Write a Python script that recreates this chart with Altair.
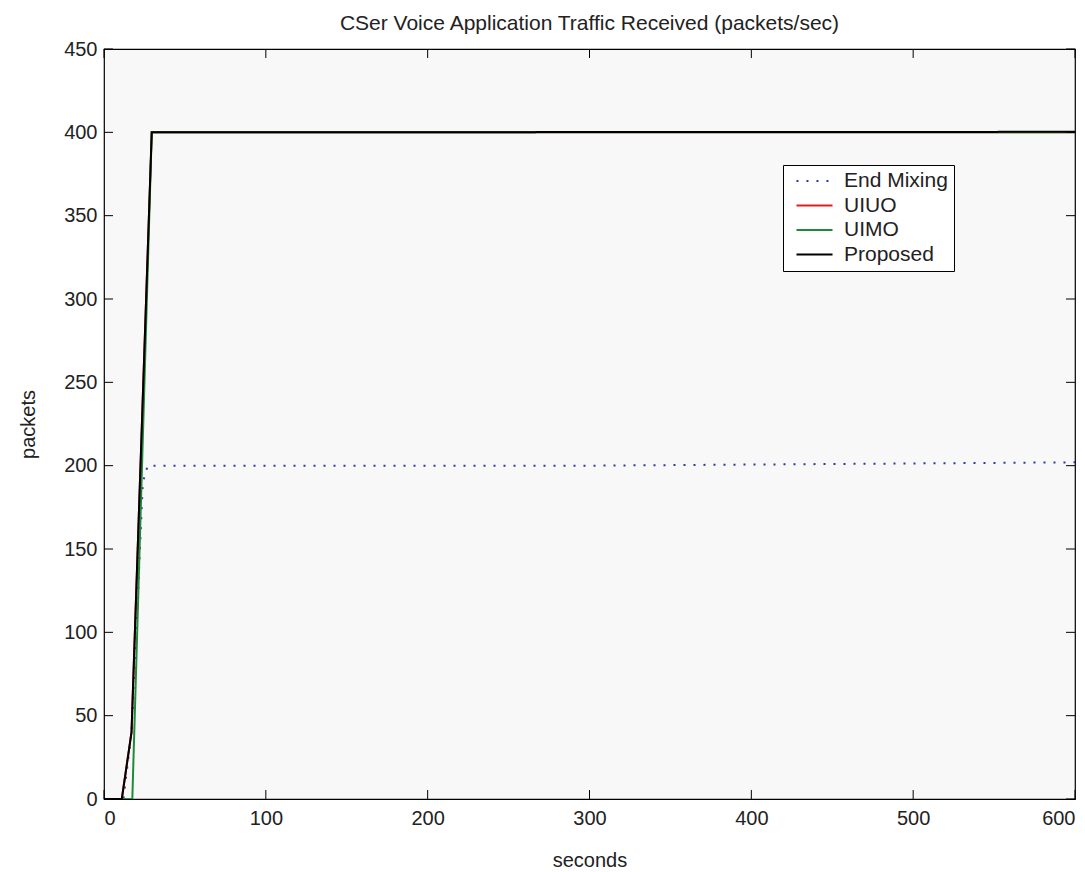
import altair as alt
import pandas as pd

series_names = ["End Mixing", "UIUO", "UIMO", "Proposed"]
series_colors = ["#2a3aa0", "#e02020", "#1f8a3a", "#000000"]

end_mixing_t = [0, 12, 17, 20, 24, 27, 300, 600]
end_mixing_v = [0, 0, 40, 100, 190, 200, 200, 202]
uiuo_t = [0, 11, 17, 29.5, 600]
uiuo_v = [0, 0, 40, 400, 400]
uimo_t = [0, 17.5, 29.5, 600]
uimo_v = [0, 0, 400, 400]
proposed_t = [0, 11, 17, 29.5, 600]
proposed_v = [0, 0, 40, 400, 400.3]

x_ticks = [0, 100, 200, 300, 400, 500, 600]
y_ticks = [0, 50, 100, 150, 200, 250, 300, 350, 400, 450]

rows = []
for name, ts, vs in [("End Mixing", end_mixing_t, end_mixing_v),
                     ("UIUO", uiuo_t, uiuo_v),
                     ("UIMO", uimo_t, uimo_v),
                     ("Proposed", proposed_t, proposed_v)]:
    for i, (t, v) in enumerate(zip(ts, vs)):
        rows.append({"series": name, "t": t, "v": v, "i": i})
df = pd.DataFrame(rows)

W, H = 971, 750
xs = alt.Scale(domain=[0, 600], nice=False, zero=False)
ys = alt.Scale(domain=[0, 450], nice=False, zero=False)

lines = alt.Chart(df).mark_line(strokeWidth=2, clip=True).encode(
    x=alt.X("t:Q", scale=xs, axis=alt.Axis(values=x_ticks, title="seconds", ticks=False, domain=False,
                                           grid=False, labelPadding=9, titlePadding=22,
                                           labelFontSize=20, titleFontSize=20, titleFontWeight="normal")),
    y=alt.Y("v:Q", scale=ys, axis=alt.Axis(values=y_ticks, title="packets", ticks=False, domain=False,
                                           grid=False, labelPadding=7, titlePadding=25,
                                           labelFontSize=20, titleFontSize=20, titleFontWeight="normal")),
    color=alt.Color("series:N", scale=alt.Scale(domain=series_names, range=series_colors),
                    legend=alt.Legend(title=None, orient="none", legendX=679, legendY=116)),
    strokeDash=alt.StrokeDash("series:N", scale=alt.Scale(domain=series_names,
                                                          range=[[2, 8], [1, 0], [1, 0], [1, 0]]),
                              legend=alt.Legend(title=None, orient="none", legendX=679, legendY=116)),
    order="i:Q",
)

xt = pd.DataFrame({"t": x_ticks})
yt = pd.DataFrame({"v": y_ticks})

xb = alt.Chart(xt).mark_rule(color="#000", strokeWidth=1).encode(
    x=alt.X("t:Q", scale=xs), y=alt.value(H), y2=alt.value(H - 9))
xtop = alt.Chart(xt).mark_rule(color="#000", strokeWidth=1).encode(
    x=alt.X("t:Q", scale=xs), y=alt.value(0), y2=alt.value(9))
yl = alt.Chart(yt).mark_rule(color="#000", strokeWidth=1).encode(
    y=alt.Y("v:Q", scale=ys), x=alt.value(0), x2=alt.value(9))
yr = alt.Chart(yt).mark_rule(color="#000", strokeWidth=1).encode(
    y=alt.Y("v:Q", scale=ys), x=alt.value(W), x2=alt.value(W - 9))

chart = alt.layer(lines, xb, xtop, yl, yr).properties(
    width=W, height=H,
    title=alt.TitleParams("CSer Voice Application Traffic Received (packets/sec)",
                          fontSize=21, fontWeight="normal", offset=5, anchor="middle", color="#222"),
    autosize=alt.AutoSizeParams(type="none"),
    padding={"left": 96, "top": 41, "right": 2, "bottom": 75},
).configure(font="Liberation Sans").configure_view(
    stroke="#000", strokeWidth=1.2, fill="#f8f8f8"
).configure_axis(labelColor="#222", titleColor="#222", labelFont="Liberation Sans",
                 titleFont="Liberation Sans").configure_legend(
    fillColor="#ffffff", strokeColor="#000", padding=6, labelFontSize=21, labelColor="#222",
    symbolType="stroke", symbolSize=1300, symbolStrokeWidth=2, rowPadding=3.5, labelOffset=10,
    clipHeight=20, symbolOffset=6, labelLimit=300, cornerRadius=0
)

chart.save("out.html", embed_options={"renderer": "svg", "actions": False})
